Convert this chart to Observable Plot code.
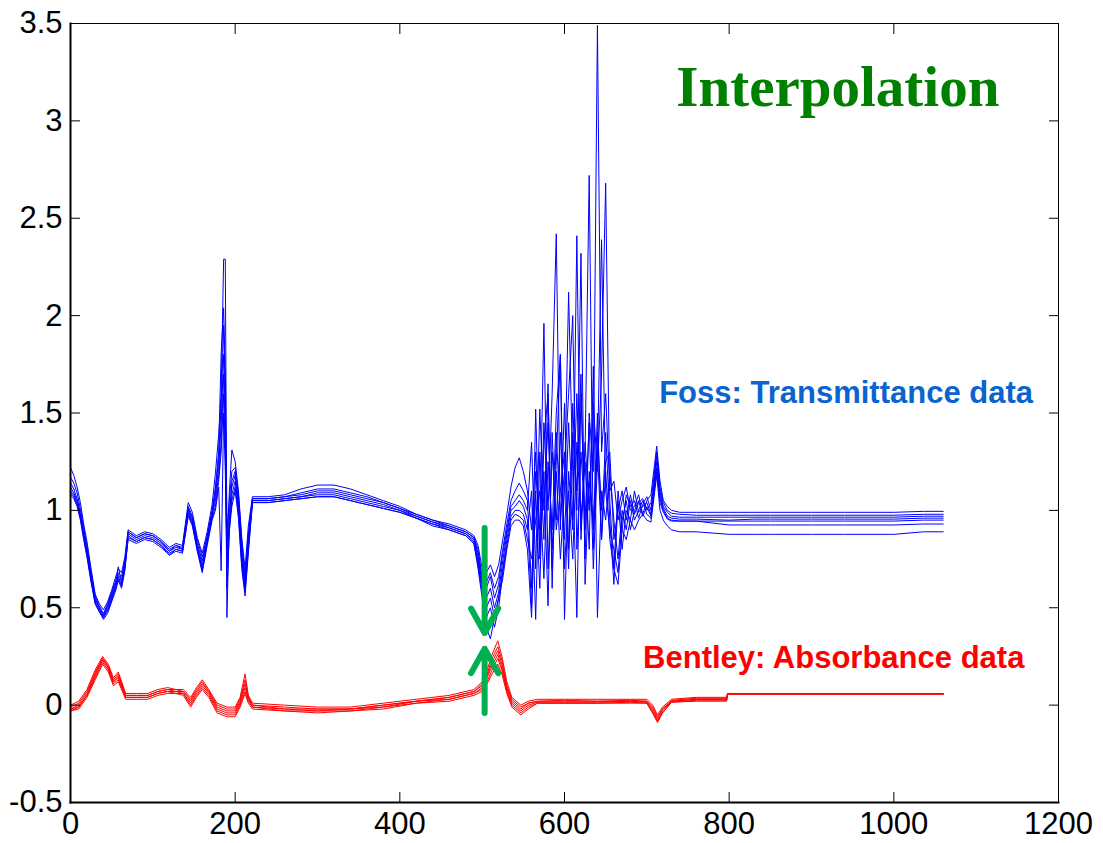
<!DOCTYPE html>
<html><head><meta charset="utf-8">
<script src="https://cdn.jsdelivr.net/npm/d3@7"></script>
<script src="https://cdn.jsdelivr.net/npm/@observablehq/plot@0.6"></script>
<style>html,body{margin:0;padding:0;background:#fff}svg{display:block}</style>
</head><body><div id="chart"></div>
<script>
// Wavelength index grid for the Foss (blue) curves
const bx = [
  0,4,8,12,16,20,25,30,35,40,
  45,50,55,58,62,66,70,80,90,100,
  110,120,128,136,143,148,154,160,166,172,
  176,180,183,186,188,190,193,196,200,204,
  208,212,216,221,240,260,280,300,320,340,
  360,380,400,420,440,460,480,490,495,500,
  505,510,515,520,525,530,535,540,545,550,
  555,560,565,570,575,580,585,590,595,600,
  605,610,615,620,625,630,635,640,645,650,
  655,660,665,670,675,680,685,690,695,700,
  705,712,716,720,725,730,740,760,800,830,
  850,900,940,1000,1036,1060
];
const blue1 = [
  1.22,1.18,1.12,1.04,0.93,0.84,0.70,0.57,0.52,0.49,
  0.53,0.59,0.66,0.70,0.68,0.76,0.90,0.87,0.89,0.88,
  0.85,0.81,0.83,0.82,1.04,0.99,0.86,0.78,0.89,1.03,
  1.19,1.39,1.60,2.29,2.29,0.80,1.10,1.31,1.25,1.10,
  0.86,0.70,0.92,1.07,1.07,1.08,1.11,1.13,1.13,1.11,
  1.08,1.05,1.02,0.98,0.95,0.93,0.90,0.87,0.82,0.70,
  0.68,0.72,0.66,0.72,0.85,0.98,1.12,1.22,1.27,1.20,
  1.10,0.90,1.30,0.80,1.45,1.00,1.60,2.42,0.90,1.55,
  0.80,1.40,1.10,1.70,0.75,1.50,1.20,3.49,1.30,1.60,
  1.10,1.15,0.95,1.05,1.12,1.00,1.02,1.08,0.98,1.05,
  1.08,1.33,1.15,1.05,1.02,1.00,0.99,0.99,0.99,0.99,
  0.99,0.99,0.99,0.99,0.995,0.995
];
const blue2 = [
  1.17,1.14,1.09,1.01,0.91,0.82,0.68,0.56,0.51,0.47,
  0.52,0.58,0.64,0.68,0.66,0.74,0.89,0.86,0.88,0.87,
  0.84,0.80,0.82,0.81,1.02,0.97,0.85,0.76,0.87,1.00,
  1.12,1.30,1.81,2.04,1.70,0.90,1.05,1.20,1.22,1.08,
  0.84,0.66,0.88,1.06,1.06,1.07,1.09,1.11,1.11,1.09,
  1.07,1.04,1.01,0.98,0.95,0.92,0.89,0.86,0.80,0.66,
  0.63,0.68,0.60,0.66,0.80,0.93,1.05,1.10,1.14,1.10,
  1.05,0.60,1.20,0.90,1.96,0.70,1.30,0.95,1.40,0.85,
  1.45,0.95,1.60,0.90,1.30,2.72,0.80,1.40,1.00,1.25,
  1.30,0.85,1.00,1.10,0.95,1.08,0.98,1.04,1.06,1.00,
  1.04,1.30,1.12,1.04,1.00,0.985,0.98,0.975,0.975,0.975,
  0.975,0.975,0.975,0.975,0.98,0.98
];
const blue3 = [
  1.14,1.11,1.06,0.99,0.89,0.80,0.67,0.55,0.50,0.46,
  0.51,0.57,0.63,0.71,0.63,0.73,0.89,0.86,0.88,0.87,
  0.84,0.79,0.82,0.80,1.01,0.96,0.83,0.74,0.86,0.99,
  1.10,1.27,1.55,1.95,1.60,0.45,0.95,1.15,1.20,1.05,
  0.80,0.64,0.86,1.06,1.06,1.07,1.08,1.10,1.10,1.08,
  1.06,1.04,1.01,0.97,0.94,0.92,0.89,0.86,0.78,0.64,
  0.60,0.66,0.55,0.62,0.78,0.90,1.02,1.05,1.08,1.05,
  1.00,1.35,0.70,1.52,1.00,1.45,0.80,1.25,1.80,0.44,
  1.20,0.90,2.41,0.85,1.35,1.00,1.55,1.20,1.70,2.68,
  1.05,0.70,1.10,0.90,1.08,1.02,1.05,0.96,1.03,1.07,
  1.00,1.28,1.10,1.02,0.99,0.97,0.965,0.965,0.965,0.965,
  0.965,0.965,0.965,0.965,0.97,0.97
];
const blue4 = [
  1.12,1.09,1.05,0.98,0.88,0.79,0.66,0.54,0.50,0.46,
  0.50,0.56,0.62,0.67,0.64,0.72,0.88,0.85,0.87,0.86,
  0.83,0.79,0.81,0.80,1.00,0.95,0.82,0.72,0.85,0.98,
  1.08,1.22,1.45,1.80,1.50,0.70,1.00,1.12,1.18,1.02,
  0.78,0.62,0.84,1.05,1.05,1.06,1.07,1.09,1.09,1.07,
  1.05,1.03,1.00,0.97,0.94,0.91,0.88,0.85,0.76,0.62,
  0.55,0.60,0.50,0.58,0.74,0.88,1.00,1.02,1.05,1.02,
  0.95,0.50,1.52,0.75,1.20,0.51,1.40,0.90,1.10,1.30,
  0.70,1.55,1.00,2.32,0.62,1.20,0.90,1.50,0.85,1.40,
  0.95,0.62,1.05,0.80,1.00,0.95,1.10,0.99,1.02,1.04,
  0.98,1.25,1.08,1.01,0.97,0.96,0.955,0.955,0.95,0.955,
  0.955,0.955,0.955,0.955,0.96,0.96
];
const blue5 = [
  1.10,1.08,1.04,0.97,0.87,0.78,0.65,0.53,0.49,0.45,
  0.49,0.55,0.61,0.66,0.62,0.71,0.87,0.84,0.86,0.85,
  0.82,0.78,0.80,0.79,0.99,0.94,0.81,0.70,0.84,0.97,
  1.05,1.18,1.35,1.70,1.40,0.60,0.90,1.08,1.15,1.00,
  0.75,0.60,0.82,1.05,1.05,1.06,1.07,1.08,1.08,1.06,
  1.04,1.02,1.00,0.96,0.93,0.91,0.88,0.84,0.74,0.60,
  0.50,0.55,0.45,0.55,0.70,0.85,0.97,1.00,1.00,0.98,
  0.90,1.10,0.44,1.30,0.85,1.65,0.60,1.40,0.95,1.20,
  1.60,2.00,0.80,1.30,0.95,1.45,0.70,1.25,2.39,1.10,
  0.90,0.80,0.68,0.95,1.05,0.90,1.00,1.05,0.97,1.02,
  0.97,1.22,1.06,1.00,0.96,0.95,0.945,0.945,0.945,0.945,
  0.945,0.945,0.945,0.945,0.95,0.95
];
const blue6 = [
  1.09,1.07,1.03,0.96,0.86,0.77,0.64,0.52,0.48,0.45,
  0.48,0.54,0.60,0.65,0.61,0.70,0.86,0.84,0.86,0.85,
  0.82,0.77,0.80,0.79,0.98,0.93,0.80,0.69,0.83,0.96,
  1.02,1.15,1.30,1.60,1.30,0.85,0.92,1.05,1.12,0.98,
  0.72,0.58,0.80,1.04,1.04,1.05,1.06,1.07,1.07,1.05,
  1.03,1.01,0.99,0.96,0.93,0.90,0.87,0.83,0.72,0.58,
  0.45,0.50,0.40,0.50,0.68,0.82,0.95,0.98,0.97,0.95,
  0.85,0.75,0.95,1.10,0.65,1.25,0.90,1.50,1.80,0.70,
  1.10,0.75,1.35,0.95,1.25,0.80,1.74,0.45,1.10,0.95,
  1.20,0.95,0.75,1.00,0.90,1.05,0.95,1.00,1.05,0.98,
  0.96,1.20,1.04,0.99,0.955,0.945,0.945,0.945,0.925,0.925,
  0.925,0.925,0.925,0.925,0.93,0.93
];
const blue7 = [
  1.08,1.06,1.02,0.95,0.85,0.76,0.63,0.52,0.48,0.44,
  0.47,0.53,0.59,0.64,0.60,0.69,0.85,0.83,0.85,0.84,
  0.81,0.77,0.79,0.78,0.97,0.92,0.79,0.68,0.82,0.95,
  1.00,1.12,0.69,1.50,1.20,0.75,0.90,1.02,1.10,0.96,
  0.70,0.56,0.78,1.04,1.04,1.05,1.06,1.07,1.07,1.05,
  1.03,1.01,0.99,0.96,0.92,0.90,0.87,0.83,0.70,0.55,
  0.40,0.34,0.45,0.55,0.65,0.80,0.92,0.95,0.95,0.92,
  0.80,0.45,1.10,0.60,1.35,1.60,0.70,1.20,0.75,1.10,
  2.12,1.20,0.45,1.60,0.90,1.15,0.95,1.30,0.85,1.20,
  0.85,0.70,0.62,0.90,0.85,0.95,0.90,0.95,0.98,0.95,
  0.94,1.18,1.00,0.95,0.92,0.90,0.89,0.89,0.877,0.877,
  0.877,0.877,0.877,0.877,0.89,0.89
];
const blueSeries = [blue1, blue2, blue3, blue4, blue5, blue6, blue7];

// Wavelength index grid for the Bentley (red) curves
const rx = [
  0,10,20,30,39,46,52,58,67,80,
  94,106,118,128,137,146,153,160,168,178,
  190,200,206,212,216,221,260,300,340,380,
  420,460,490,500,506,512,519,524,530,536,
  547,556,567,600,640,680,700,707,713,719,
  730,760,797,798,1060
];
const red1 = [
  0.00,0.02,0.08,0.18,0.25,0.21,0.14,0.17,0.06,0.06,
  0.06,0.08,0.09,0.08,0.08,0.04,0.09,0.13,0.08,0.01,
  -0.01,-0.01,0.04,0.16,0.05,0.01,0.00,-0.01,-0.01,0.01,
  0.03,0.05,0.08,0.12,0.18,0.26,0.33,0.25,0.12,0.04,
  0.00,0.02,0.03,0.03,0.03,0.03,0.03,0.00,-0.05,-0.01,
  0.03,0.04,0.04,0.058,0.058
];
const red2 = [
  -0.01,0.01,0.07,0.17,0.24,0.20,0.13,0.16,0.05,0.05,
  0.05,0.07,0.08,0.08,0.07,0.03,0.08,0.12,0.07,0.00,
  -0.02,-0.02,0.03,0.13,0.04,0.00,-0.01,-0.02,-0.02,0.00,
  0.02,0.04,0.07,0.11,0.16,0.24,0.30,0.23,0.10,0.03,
  -0.01,0.01,0.02,0.025,0.02,0.025,0.02,-0.01,-0.06,-0.02,
  0.025,0.035,0.035,0.058,0.058
];
const red3 = [
  -0.02,0.00,0.06,0.16,0.24,0.19,0.12,0.15,0.05,0.05,
  0.05,0.07,0.08,0.07,0.07,0.02,0.07,0.11,0.07,-0.01,
  -0.03,-0.03,0.02,0.11,0.04,0.00,-0.02,-0.02,-0.02,0.00,
  0.02,0.04,0.07,0.10,0.15,0.22,0.28,0.21,0.09,0.02,
  -0.02,0.01,0.02,0.02,0.02,0.02,0.02,-0.02,-0.07,-0.02,
  0.02,0.03,0.03,0.058,0.058
];
const red4 = [
  -0.02,-0.01,0.05,0.15,0.23,0.19,0.12,0.14,0.04,0.04,
  0.04,0.06,0.07,0.07,0.06,0.01,0.06,0.10,0.06,-0.02,
  -0.04,-0.04,0.01,0.09,0.03,-0.01,-0.02,-0.03,-0.02,-0.01,
  0.02,0.03,0.06,0.09,0.14,0.20,0.26,0.19,0.08,0.01,
  -0.03,0.00,0.015,0.015,0.015,0.02,0.015,-0.03,-0.08,-0.03,
  0.02,0.03,0.03,0.058,0.058
];
const red5 = [
  -0.03,-0.01,0.05,0.14,0.22,0.18,0.11,0.13,0.04,0.04,
  0.04,0.06,0.07,0.06,0.06,0.00,0.05,0.09,0.05,-0.03,
  -0.05,-0.05,0.00,0.07,0.02,-0.01,-0.03,-0.03,-0.03,-0.01,
  0.01,0.03,0.06,0.08,0.12,0.18,0.24,0.18,0.07,0.00,
  -0.04,-0.01,0.01,0.01,0.01,0.015,0.01,-0.04,-0.08,-0.04,
  0.015,0.025,0.025,0.058,0.058
];
const red6 = [
  -0.03,-0.02,0.04,0.13,0.21,0.17,0.10,0.12,0.03,0.03,
  0.03,0.05,0.06,0.06,0.05,-0.01,0.04,0.08,0.04,-0.04,
  -0.06,-0.06,-0.01,0.06,0.01,-0.02,-0.03,-0.04,-0.03,-0.02,
  0.01,0.02,0.05,0.07,0.11,0.16,0.21,0.16,0.06,-0.01,
  -0.05,-0.02,0.01,0.01,0.01,0.01,0.01,-0.04,-0.09,-0.04,
  0.015,0.02,0.02,0.058,0.058
];
const redSeries = [red1, red2, red3, red4, red5, red6];

const xTicks = [0, 200, 400, 600, 800, 1000, 1200];
const yTicks = [-0.5, 0, 0.5, 1, 1.5, 2, 2.5, 3, 3.5];

// Annotations
const arrowDown = [{x: 503, y1: 0.91, y2: 0.37}];
const arrowUp = [{x: 503, y1: -0.40, y2: 0.29}];
const titleText = ["Interpolation"];
const fossText = ["Foss: Transmittance data"];
const bentleyText = ["Bentley: Absorbance data"];

const blueData = blueSeries.flatMap((ys, k) => bx.map((x, i) => ({x, y: ys[i], s: k})));
const redData = redSeries.flatMap((ys, k) => rx.map((x, i) => ({x, y: ys[i], s: k})));

const fmt = d => String(d);
const arrowStyle = {x1: "x", x2: "x", y1: "y1", y2: "y2", stroke: "#00b050", strokeWidth: 6, headLength: 7, headAngle: 58};
const chart = Plot.plot({
  width: 1103, height: 843,
  marginLeft: 70, marginRight: 45, marginTop: 23, marginBottom: 41,
  x: {domain: [0, 1200]},
  y: {domain: [-0.5, 3.5]},
  style: {fontFamily: "'Liberation Sans', Arial, sans-serif", fontSize: "31px", color: "black", background: "white", overflow: "visible"},
  marks: [
    Plot.line(blueData, {x: "x", y: "y", z: "s", stroke: "#0000ff", strokeWidth: 1}),
    Plot.line(redData, {x: "x", y: "y", z: "s", stroke: "#ff0000", strokeWidth: 1}),
    Plot.arrow(arrowDown, arrowStyle),
    Plot.arrow(arrowUp, {...arrowStyle, insetStart: 70}),
    Plot.text(titleText, {x: 932, y: 3.17, text: d => d, fill: "#008000", fontFamily: "'Liberation Serif', 'Times New Roman', serif", fontWeight: "bold", fontSize: 57, textAnchor: "middle", lineAnchor: "middle"}),
    Plot.text(fossText, {x: 942, y: 1.60, text: d => d, fill: "#0a64cf", fontFamily: "'Liberation Sans', Arial, sans-serif", fontWeight: "bold", fontSize: 31, textAnchor: "middle", lineAnchor: "middle"}),
    Plot.text(bentleyText, {x: 927, y: 0.24, text: d => d, fill: "#ff0000", fontFamily: "'Liberation Sans', Arial, sans-serif", fontWeight: "bold", fontSize: 31, textAnchor: "middle", lineAnchor: "middle"}),
    Plot.frame({stroke: "black", strokeWidth: 1}),
    Plot.frame({anchor: "left", stroke: "black", strokeWidth: 2}),
    Plot.frame({anchor: "bottom", stroke: "black", strokeWidth: 2}),
    Plot.axisX({anchor: "bottom", ticks: xTicks, tickSize: 0, tickPadding: 9, tickFormat: fmt, label: null, fontSize: 31}),
    Plot.axisY({anchor: "left", ticks: yTicks, tickSize: 0, tickPadding: 8, tickFormat: fmt, label: null, fontSize: 31}),
    Plot.axisX({anchor: "bottom", ticks: xTicks, tickSize: -10, tickFormat: () => "", label: null}),
    Plot.axisX({anchor: "top", ticks: xTicks, tickSize: -10, tickFormat: () => "", label: null}),
    Plot.axisY({anchor: "left", ticks: yTicks, tickSize: -10, tickFormat: () => "", label: null}),
    Plot.axisY({anchor: "right", ticks: yTicks, tickSize: -10, tickFormat: () => "", label: null})
  ]
});
document.getElementById("chart").appendChild(chart);
</script>
</body></html>
